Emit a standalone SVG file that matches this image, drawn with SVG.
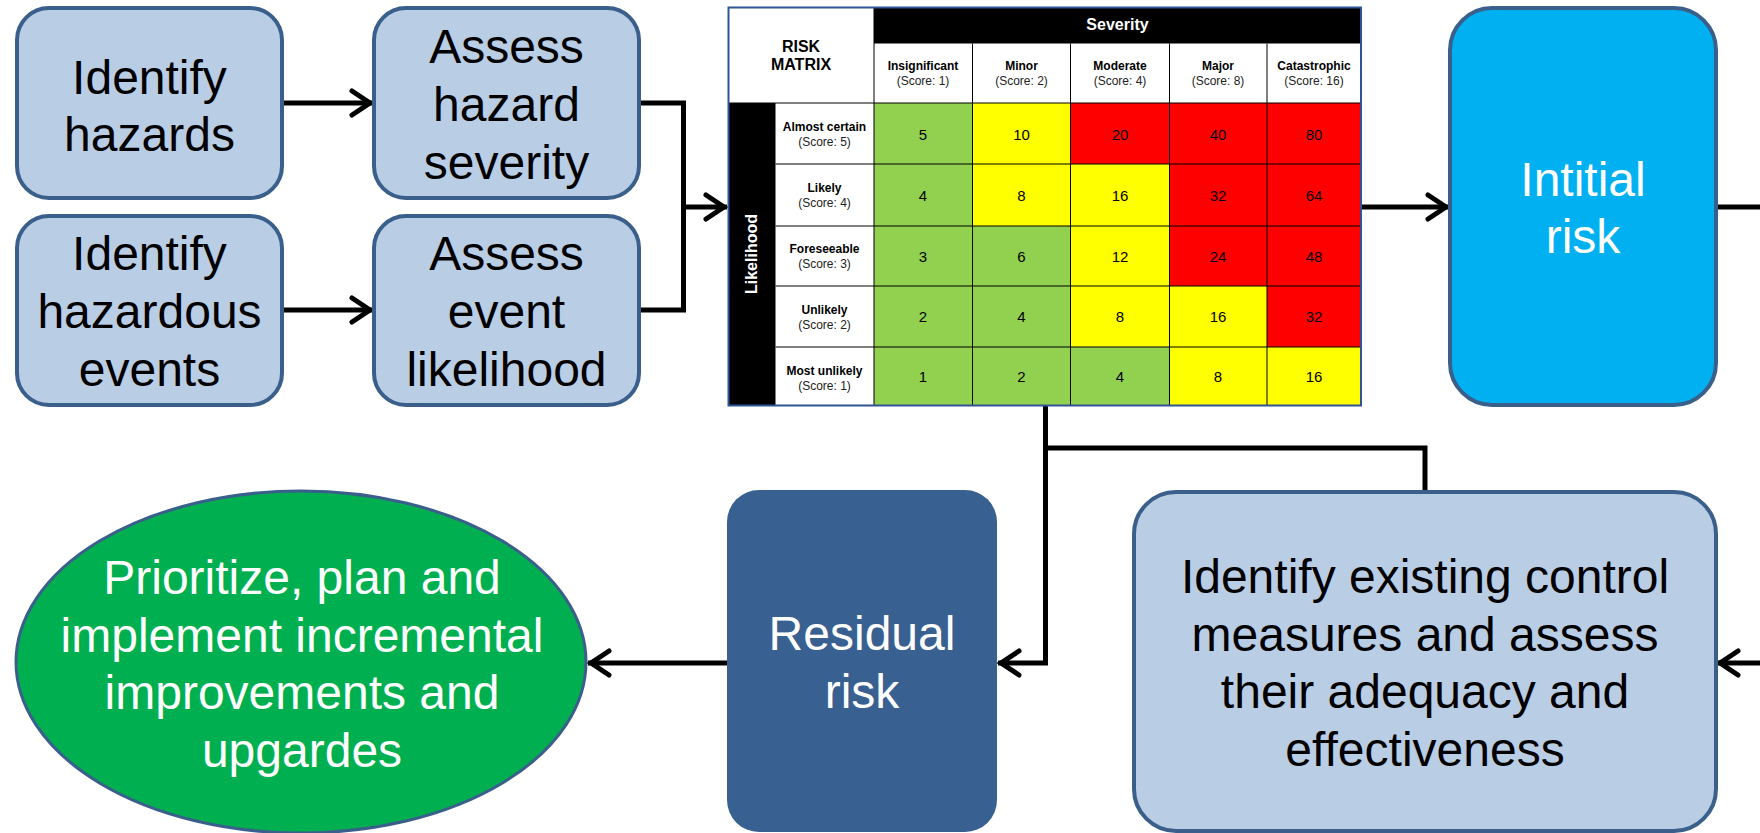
<svg xmlns="http://www.w3.org/2000/svg" width="1760" height="833" viewBox="0 0 1760 833">
<defs>
<style>
.box{fill:#B9CDE5;stroke:#3A5F8B;stroke-width:4}
.big{font-family:"Liberation Sans",Arial,sans-serif;font-size:48px;text-anchor:middle;fill:#000}
.w{fill:#fff}
.conn{fill:none;stroke:#000;stroke-width:5}
.g{fill:#92D050}
.y{fill:#FFFF00}
.r{fill:#FF0000}
.grid{stroke:#000;stroke-width:1}
.mb{font-family:"Liberation Sans",Arial,sans-serif;font-weight:bold;font-size:12px;text-anchor:middle;fill:#000}
.mn{font-family:"Liberation Sans",Arial,sans-serif;font-size:12px;text-anchor:middle;fill:#222}
.num{font-family:"Liberation Sans",Arial,sans-serif;font-size:15px;text-anchor:middle;fill:#000}
.hdr{font-family:"Liberation Sans",Arial,sans-serif;font-weight:bold;font-size:16px;text-anchor:middle}
</style>
<marker id="arr" markerUnits="userSpaceOnUse" markerWidth="32" markerHeight="34" viewBox="0 0 32 34" refX="27" refY="17" orient="auto">
<path d="M6,5 L24,17 L6,29" fill="none" stroke="#000" stroke-width="5" stroke-linecap="round" stroke-linejoin="miter"/>
</marker>
</defs>
<rect width="1760" height="833" fill="#fff"/>

<g id="connectors">
<line class="conn" x1="282" y1="103" x2="373" y2="103" marker-end="url(#arr)"/>
<line class="conn" x1="282" y1="310" x2="373" y2="310" marker-end="url(#arr)"/>
<polyline class="conn" points="640,103 683.5,103 683.5,310 640,310"/>
<line class="conn" x1="683.5" y1="207" x2="727" y2="207" marker-end="url(#arr)"/>
<line class="conn" x1="1361" y1="207" x2="1449" y2="207" marker-end="url(#arr)"/>
<line class="conn" x1="1717" y1="207" x2="1760" y2="207"/>
<line class="conn" x1="1760" y1="663" x2="1717" y2="663" marker-end="url(#arr)"/>
<polyline class="conn" points="1045.5,406 1045.5,663 998,663" marker-end="url(#arr)"/>
<polyline class="conn" points="1045.5,448 1425,448 1425,492"/>
<line class="conn" x1="727" y1="663" x2="588" y2="663" marker-end="url(#arr)"/>
</g>

<g id="identify-hazards">
<rect class="box" x="17" y="8" width="265" height="190" rx="32"/>
<text class="big" x="149.5" y="94">Identify</text>
<text class="big" x="149.5" y="151">hazards</text>
</g>

<g id="assess-hazard-severity">
<rect class="box" x="374" y="8" width="265" height="190" rx="32"/>
<text class="big" x="506.5" y="63">Assess</text>
<text class="big" x="506.5" y="121">hazard</text>
<text class="big" x="506.5" y="179">severity</text>
</g>

<g id="identify-hazardous-events">
<rect class="box" x="17" y="216" width="265" height="189" rx="32"/>
<text class="big" x="149.5" y="270">Identify</text>
<text class="big" x="149.5" y="328">hazardous</text>
<text class="big" x="149.5" y="386">events</text>
</g>

<g id="assess-event-likelihood">
<rect class="box" x="374" y="216" width="265" height="189" rx="32"/>
<text class="big" x="506.5" y="270">Assess</text>
<text class="big" x="506.5" y="328">event</text>
<text class="big" x="506.5" y="386">likelihood</text>
</g>

<g id="risk-matrix">
<rect x="728.5" y="7.5" width="632.5" height="398" fill="#fff"/>
<rect x="874" y="7.5" width="487" height="36" fill="#000"/>
<rect x="728.5" y="103" width="47" height="302.5" fill="#000"/>
<!-- cells row1 -->
<rect class="g" x="874" y="103" width="98.5" height="61"/>
<rect class="y" x="972.5" y="103" width="98" height="61"/>
<rect class="r" x="1070.5" y="103" width="99" height="61"/>
<rect class="r" x="1169.5" y="103" width="97.5" height="61"/>
<rect class="r" x="1267" y="103" width="94" height="61"/>
<!-- row2 -->
<rect class="g" x="874" y="164" width="98.5" height="62"/>
<rect class="y" x="972.5" y="164" width="98" height="62"/>
<rect class="y" x="1070.5" y="164" width="99" height="62"/>
<rect class="r" x="1169.5" y="164" width="97.5" height="62"/>
<rect class="r" x="1267" y="164" width="94" height="62"/>
<!-- row3 -->
<rect class="g" x="874" y="226" width="98.5" height="60"/>
<rect class="g" x="972.5" y="226" width="98" height="60"/>
<rect class="y" x="1070.5" y="226" width="99" height="60"/>
<rect class="r" x="1169.5" y="226" width="97.5" height="60"/>
<rect class="r" x="1267" y="226" width="94" height="60"/>
<!-- row4 -->
<rect class="g" x="874" y="286" width="98.5" height="61"/>
<rect class="g" x="972.5" y="286" width="98" height="61"/>
<rect class="y" x="1070.5" y="286" width="99" height="61"/>
<rect class="y" x="1169.5" y="286" width="97.5" height="61"/>
<rect class="r" x="1267" y="286" width="94" height="61"/>
<!-- row5 -->
<rect class="g" x="874" y="347" width="98.5" height="58.5"/>
<rect class="g" x="972.5" y="347" width="98" height="58.5"/>
<rect class="g" x="1070.5" y="347" width="99" height="58.5"/>
<rect class="y" x="1169.5" y="347" width="97.5" height="58.5"/>
<rect class="y" x="1267" y="347" width="94" height="58.5"/>
<!-- grid -->
<g class="grid">
<line x1="728.5" y1="103" x2="1361" y2="103"/>
<line x1="775.5" y1="164" x2="1361" y2="164"/>
<line x1="775.5" y1="226" x2="1361" y2="226"/>
<line x1="775.5" y1="286" x2="1361" y2="286"/>
<line x1="775.5" y1="347" x2="1361" y2="347"/>
<line x1="874" y1="7.5" x2="874" y2="405.5"/>
<line x1="972.5" y1="43.5" x2="972.5" y2="405.5"/>
<line x1="1070.5" y1="43.5" x2="1070.5" y2="405.5"/>
<line x1="1169.5" y1="43.5" x2="1169.5" y2="405.5"/>
<line x1="1267" y1="43.5" x2="1267" y2="405.5"/>
</g>
<rect x="728.5" y="7.5" width="632.5" height="398" fill="none" stroke="#2F5597" stroke-width="2"/>
<text class="hdr" x="1117.5" y="30" fill="#fff">Severity</text>
<text class="hdr" x="801" y="52" fill="#000">RISK</text>
<text class="hdr" x="801" y="70" fill="#000">MATRIX</text>
<text class="hdr" x="0" y="0" fill="#fff" transform="translate(757,254) rotate(-90)">Likelihood</text>
<!-- column headers -->
<text class="mb" x="923" y="70">Insignificant</text><text class="mn" x="923" y="85">(Score: 1)</text>
<text class="mb" x="1021.5" y="70">Minor</text><text class="mn" x="1021.5" y="85">(Score: 2)</text>
<text class="mb" x="1120" y="70">Moderate</text><text class="mn" x="1120" y="85">(Score: 4)</text>
<text class="mb" x="1218" y="70">Major</text><text class="mn" x="1218" y="85">(Score: 8)</text>
<text class="mb" x="1314" y="70">Catastrophic</text><text class="mn" x="1314" y="85">(Score: 16)</text>
<!-- row labels -->
<text class="mb" x="824.5" y="131">Almost certain</text><text class="mn" x="824.5" y="146">(Score: 5)</text>
<text class="mb" x="824.5" y="192">Likely</text><text class="mn" x="824.5" y="207">(Score: 4)</text>
<text class="mb" x="824.5" y="253">Foreseeable</text><text class="mn" x="824.5" y="268">(Score: 3)</text>
<text class="mb" x="824.5" y="314">Unlikely</text><text class="mn" x="824.5" y="329">(Score: 2)</text>
<text class="mb" x="824.5" y="375">Most unlikely</text><text class="mn" x="824.5" y="390">(Score: 1)</text>
<!-- numbers -->
<text class="num" x="923" y="140">5</text><text class="num" x="1021.5" y="140">10</text><text class="num" x="1120" y="140">20</text><text class="num" x="1218" y="140">40</text><text class="num" x="1314" y="140">80</text>
<text class="num" x="923" y="201">4</text><text class="num" x="1021.5" y="201">8</text><text class="num" x="1120" y="201">16</text><text class="num" x="1218" y="201">32</text><text class="num" x="1314" y="201">64</text>
<text class="num" x="923" y="262">3</text><text class="num" x="1021.5" y="262">6</text><text class="num" x="1120" y="262">12</text><text class="num" x="1218" y="262">24</text><text class="num" x="1314" y="262">48</text>
<text class="num" x="923" y="322">2</text><text class="num" x="1021.5" y="322">4</text><text class="num" x="1120" y="322">8</text><text class="num" x="1218" y="322">16</text><text class="num" x="1314" y="322">32</text>
<text class="num" x="923" y="382">1</text><text class="num" x="1021.5" y="382">2</text><text class="num" x="1120" y="382">4</text><text class="num" x="1218" y="382">8</text><text class="num" x="1314" y="382">16</text>
</g>

<g id="initial-risk">
<rect x="1450" y="8" width="266" height="397" rx="42" fill="#00B0F0" stroke="#3A5F8B" stroke-width="4"/>
<text class="big w" x="1583" y="196">Intitial</text>
<text class="big w" x="1583" y="253">risk</text>
</g>

<g id="identify-existing-controls">
<rect class="box" x="1134" y="492" width="582" height="339" rx="42"/>
<text class="big" x="1425" y="593">Identify existing control</text>
<text class="big" x="1425" y="651">measures and assess</text>
<text class="big" x="1425" y="708">their adequacy and</text>
<text class="big" x="1425" y="766">effectiveness</text>
</g>

<g id="residual-risk">
<rect x="727" y="490" width="270" height="342" rx="32" fill="#386091"/>
<text class="big w" x="862" y="650">Residual</text>
<text class="big w" x="862" y="708">risk</text>
</g>

<g id="prioritize">
<ellipse cx="301" cy="662" rx="285" ry="171" fill="#00B050" stroke="#3A5F8B" stroke-width="3"/>
<text class="big w" x="302" y="594">Prioritize, plan and</text>
<text class="big w" x="302" y="652">implement incremental</text>
<text class="big w" x="302" y="709">improvements and</text>
<text class="big w" x="302" y="767">upgardes</text>
</g>
</svg>
